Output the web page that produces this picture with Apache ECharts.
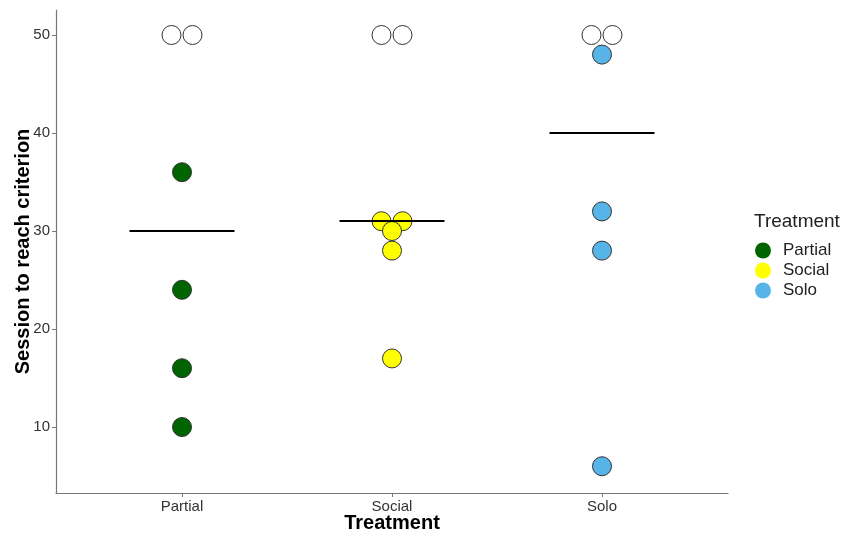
<!DOCTYPE html>
<html>
<head>
<meta charset="utf-8">
<script src="https://cdn.jsdelivr.net/npm/echarts@6/dist/echarts.min.js"></script>
<style>
  html, body { margin: 0; padding: 0; background: #fff; }
  #main { width: 848px; height: 534px; }
</style>
</head>
<body>
<div id="main"></div>
<script>
// groups on the x axis
var categories = ["Partial", "Social", "Solo"];
// sessions to reach criterion, 50 = criterion never reached (cap)
var partialSessions = [50, 50, 36, 24, 16, 10];
var socialSessions = [50, 50, 31, 31, 30, 28, 17];
var soloSessions = [50, 50, 48, 32, 28, 6];
var sessionCap = 50;
var yTicks = [10, 20, 30, 40, 50];

var groups = [partialSessions, socialSessions, soloSessions];
var colors = ["#006400", "#FFFF00", "#56B4E9"];
var font = "'Liberation Sans', Arial, sans-serif";

function median(arr) {
  var s = arr.slice().sort(function (a, b) { return a - b; });
  var m = Math.floor(s.length / 2);
  return s.length % 2 ? s[m] : (s[m - 1] + s[m]) / 2;
}

// side by side dodge for equal values
function dodge(values, center) {
  var seen = {};
  var counts = {};
  values.forEach(function (v) { counts[v] = (counts[v] || 0) + 1; });
  return values.map(function (v) {
    var i = seen[v] || 0;
    seen[v] = i + 1;
    return [center + (i - (counts[v] - 1) / 2) * 0.1, v];
  });
}

var series = [];
var capped = [];
groups.forEach(function (vals, g) {
  var pts = dodge(vals, g + 1);
  capped = capped.concat(pts.filter(function (p) { return p[1] >= sessionCap; }));
  series.push({
    name: categories[g],
    type: "scatter",
    symbolSize: 19,
    z: 2,
    itemStyle: { color: colors[g], borderColor: "#333", borderWidth: 1, opacity: 1 },
    data: pts.filter(function (p) { return p[1] < sessionCap; })
  });
});
series.push({
  name: "Not reached",
  type: "scatter",
  symbolSize: 19,
  z: 2,
  itemStyle: { color: "#fff", borderColor: "#333", borderWidth: 1, opacity: 1 },
  data: capped
});
series.push({
  name: "Median",
  type: "lines",
  coordinateSystem: "cartesian2d",
  z: 5,
  lineStyle: { color: "#000", width: 2.2, opacity: 1 },
  data: groups.map(function (vals, g) {
    var m = median(vals);
    return { coords: [[g + 1 - 0.25, m], [g + 1 + 0.25, m]] };
  })
});

var myChart = echarts.init(document.getElementById("main"));
var option = {
  animation: false,
  backgroundColor: "#fff",
  textStyle: { fontFamily: font },
  grid: { left: 56, right: 120, top: 10, bottom: 41, containLabel: false, outerBoundsMode: "none" },
  xAxis: {
    type: "value",
    min: 0.4,
    max: 3.6,
    name: "Treatment",
    nameLocation: "middle",
    nameGap: 20,
    nameMoveOverlap: false,
    nameTextStyle: { fontSize: 20, fontWeight: "bold", color: "#000", fontFamily: font },
    axisLine: { show: true, lineStyle: { color: "#777", width: 1.2 } },
    axisTick: { show: true, length: 4, customValues: [1, 2, 3], lineStyle: { color: "#777" } },
    axisLabel: {
      customValues: [1, 2, 3],
      margin: 6,
      fontSize: 15,
      color: "#333",
      formatter: function (v) { return categories[Math.round(v) - 1] || ""; }
    },
    splitLine: { show: false }
  },
  yAxis: {
    type: "value",
    min: 3.27,
    max: 52.55,
    name: "Session to reach criterion",
    nameLocation: "middle",
    nameGap: 23,
    nameMoveOverlap: false,
    nameTextStyle: { fontSize: 20, fontWeight: "bold", color: "#000", fontFamily: font },
    axisLine: { show: true, lineStyle: { color: "#777", width: 1.2 } },
    axisTick: { show: true, length: 4, customValues: yTicks, lineStyle: { color: "#777" } },
    axisLabel: { customValues: yTicks, margin: 6, fontSize: 15, color: "#333" },
    splitLine: { show: false }
  },
  legend: {
    data: categories,
    orient: "vertical",
    left: 755,
    top: 242,
    padding: 0,
    itemWidth: 16,
    itemHeight: 16,
    itemGap: 3,
    icon: "circle",
    itemStyle: { borderWidth: 0 },
    textStyle: { fontSize: 17, lineHeight: 16, color: "#222", padding: [0, 0, 0, 7], fontFamily: font }
  },
  graphic: [{
    type: "text",
    left: 754,
    top: 212,
    style: { text: "Treatment", fontSize: 19, fill: "#222", fontFamily: font }
  }],
  series: series
};
myChart.setOption(option);
</script>
</body>
</html>
